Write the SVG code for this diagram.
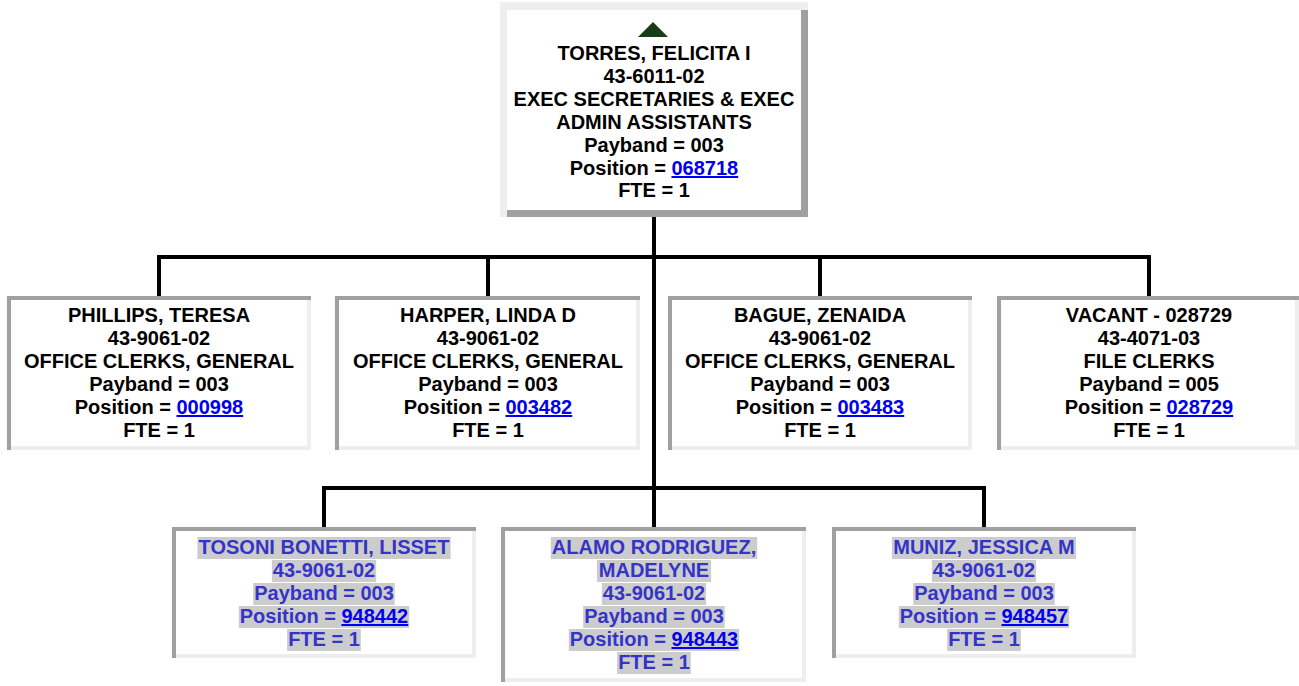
<svg xmlns="http://www.w3.org/2000/svg" width="1299" height="686" viewBox="0 0 1299 686">
<style>
  text { font-family: "Liberation Sans", Arial, sans-serif; font-weight: bold; font-size: 20px; text-anchor: middle; fill: #000000; }
  text.emp { fill: #3434c8; }
  .link { fill: #0000ee; text-decoration: underline; }
  .hl { fill: #cccccc; }
  .dark { fill: #a0a0a0; }
  .light { fill: #eeeeee; }
  .body { fill: #ffffff; }
  .conn { stroke: #000000; stroke-width: 4; fill: none; stroke-linecap: butt; }
</style>

<g id="connectors">
  <line class="conn" x1="654" y1="217" x2="654" y2="527"/>
  <line class="conn" x1="157" y1="257" x2="1151" y2="257"/>
  <line class="conn" x1="159" y1="257" x2="159" y2="296"/>
  <line class="conn" x1="488" y1="257" x2="488" y2="296"/>
  <line class="conn" x1="820" y1="257" x2="820" y2="296"/>
  <line class="conn" x1="1149" y1="257" x2="1149" y2="296"/>
  <line class="conn" x1="322" y1="488" x2="986" y2="488"/>
  <line class="conn" x1="324" y1="488" x2="324" y2="527"/>
  <line class="conn" x1="984" y1="488" x2="984" y2="527"/>
</g>

<g id="node-torres">
  <rect class="body" x="500" y="2" width="308" height="215"/>
  <polygon class="light" points="500,2 808,2 808,10 507,10 507,217 500,217"/>
  <polygon class="dark" points="801,10 808,10 808,217 507,217 507,210 801,210"/>
  <polygon points="653,22 668,37 638,37" fill="#173d17"/>
  <text x="654" y="60">TORRES, FELICITA I</text>
  <text x="654" y="83">43-6011-02</text>
  <text x="654" y="106">EXEC SECRETARIES &amp; EXEC</text>
  <text x="654" y="129">ADMIN ASSISTANTS</text>
  <text x="654" y="152">Payband = 003</text>
  <text x="654" y="175">Position = <tspan class="link">068718</tspan></text>
  <text x="654" y="197">FTE = 1</text>
</g>

<g id="node-phillips">
  <rect class="body" x="7" y="296" width="304" height="154"/>
  <polygon class="dark" points="7,296 311,296 311,300 11,300 11,450 7,450"/>
  <polygon class="light" points="307,300 311,300 311,450 11,450 11,446 307,446"/>
  <text x="159" y="322">PHILLIPS, TERESA</text>
  <text x="159" y="345">43-9061-02</text>
  <text x="159" y="368">OFFICE CLERKS, GENERAL</text>
  <text x="159" y="391">Payband = 003</text>
  <text x="159" y="414">Position = <tspan class="link">000998</tspan></text>
  <text x="159" y="437">FTE = 1</text>
</g>

<g id="node-harper">
  <rect class="body" x="335" y="296" width="305" height="154"/>
  <polygon class="dark" points="335,296 640,296 640,300 339,300 339,450 335,450"/>
  <polygon class="light" points="636,300 640,300 640,450 339,450 339,446 636,446"/>
  <text x="488" y="322">HARPER, LINDA D</text>
  <text x="488" y="345">43-9061-02</text>
  <text x="488" y="368">OFFICE CLERKS, GENERAL</text>
  <text x="488" y="391">Payband = 003</text>
  <text x="488" y="414">Position = <tspan class="link">003482</tspan></text>
  <text x="488" y="437">FTE = 1</text>
</g>

<g id="node-bague">
  <rect class="body" x="668" y="296" width="304" height="154"/>
  <polygon class="dark" points="668,296 972,296 972,300 672,300 672,450 668,450"/>
  <polygon class="light" points="968,300 972,300 972,450 672,450 672,446 968,446"/>
  <text x="820" y="322">BAGUE, ZENAIDA</text>
  <text x="820" y="345">43-9061-02</text>
  <text x="820" y="368">OFFICE CLERKS, GENERAL</text>
  <text x="820" y="391">Payband = 003</text>
  <text x="820" y="414">Position = <tspan class="link">003483</tspan></text>
  <text x="820" y="437">FTE = 1</text>
</g>

<g id="node-vacant">
  <rect class="body" x="997" y="296" width="302" height="154"/>
  <polygon class="dark" points="997,296 1299,296 1299,300 1001,300 1001,450 997,450"/>
  <polygon class="light" points="1295,300 1299,300 1299,450 1001,450 1001,446 1295,446"/>
  <text x="1149" y="322">VACANT - 028729</text>
  <text x="1149" y="345">43-4071-03</text>
  <text x="1149" y="368">FILE CLERKS</text>
  <text x="1149" y="391">Payband = 005</text>
  <text x="1149" y="414">Position = <tspan class="link">028729</tspan></text>
  <text x="1149" y="437">FTE = 1</text>
</g>

<g id="node-tosoni">
  <rect class="body" x="172" y="527" width="304" height="131"/>
  <polygon class="dark" points="172,527 476,527 476,531 176,531 176,658 172,658"/>
  <polygon class="light" points="472,531 476,531 476,658 176,658 176,654 472,654"/>
  <rect class="hl" x="197.4" y="537" width="253.2" height="22"/>
  <rect class="hl" x="271.9" y="560" width="104.3" height="22"/>
  <rect class="hl" x="253.2" y="583" width="141.5" height="22"/>
  <rect class="hl" x="238.8" y="606" width="170.4" height="22"/>
  <rect class="hl" x="287.1" y="629" width="73.7" height="22"/>
  <text class="emp" x="324" y="554">TOSONI BONETTI, LISSET</text>
  <text class="emp" x="324" y="577">43-9061-02</text>
  <text class="emp" x="324" y="600">Payband = 003</text>
  <text class="emp" x="324" y="623">Position = <tspan class="link">948442</tspan></text>
  <text class="emp" x="324" y="646">FTE = 1</text>
</g>

<g id="node-alamo">
  <rect class="body" x="501" y="527" width="305" height="155"/>
  <polygon class="dark" points="501,527 806,527 806,531 505,531 505,682 501,682"/>
  <polygon class="light" points="802,531 806,531 806,682 505,682 505,678 802,678"/>
  <rect class="hl" x="550.8" y="537" width="206.4" height="22"/>
  <rect class="hl" x="596.9" y="560" width="114.2" height="22"/>
  <rect class="hl" x="601.8" y="583" width="104.3" height="22"/>
  <rect class="hl" x="583.2" y="606" width="141.5" height="22"/>
  <rect class="hl" x="568.8" y="629" width="170.4" height="22"/>
  <rect class="hl" x="617.1" y="652" width="73.7" height="22"/>
  <text class="emp" x="654" y="554">ALAMO RODRIGUEZ,</text>
  <text class="emp" x="654" y="577">MADELYNE</text>
  <text class="emp" x="654" y="600">43-9061-02</text>
  <text class="emp" x="654" y="623">Payband = 003</text>
  <text class="emp" x="654" y="646">Position = <tspan class="link">948443</tspan></text>
  <text class="emp" x="654" y="669">FTE = 1</text>
</g>

<g id="node-muniz">
  <rect class="body" x="832" y="527" width="304" height="131"/>
  <polygon class="dark" points="832,527 1136,527 1136,531 836,531 836,658 832,658"/>
  <polygon class="light" points="1132,531 1136,531 1136,658 836,658 836,654 1132,654"/>
  <rect class="hl" x="891.9" y="537" width="184.2" height="22"/>
  <rect class="hl" x="931.85" y="560" width="104.3" height="22"/>
  <rect class="hl" x="913.25" y="583" width="141.5" height="22"/>
  <rect class="hl" x="898.8" y="606" width="170.4" height="22"/>
  <rect class="hl" x="947.15" y="629" width="73.7" height="22"/>
  <text class="emp" x="984" y="554">MUNIZ, JESSICA M</text>
  <text class="emp" x="984" y="577">43-9061-02</text>
  <text class="emp" x="984" y="600">Payband = 003</text>
  <text class="emp" x="984" y="623">Position = <tspan class="link">948457</tspan></text>
  <text class="emp" x="984" y="646">FTE = 1</text>
</g>
</svg>
